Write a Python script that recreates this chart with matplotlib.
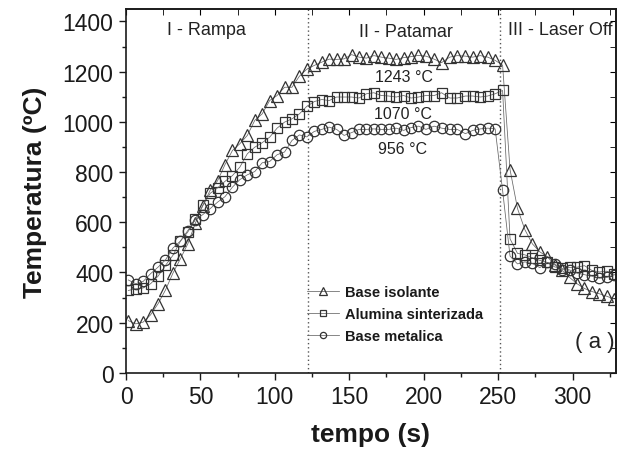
import numpy as np
import matplotlib
matplotlib.use('Agg')
import matplotlib.pyplot as plt
from matplotlib.ticker import MultipleLocator

plt.rcParams['font.family'] = ['Liberation Sans', 'DejaVu Sans']

# tempo (s)
tempo = [1.5, 6.5, 11.5, 16.5, 21.5, 26.5, 31.5, 36.5, 41.5, 46.5, 51.5, 56.5, 61.5,
         66.5, 71.5, 76.5, 81.5, 86.5, 91.5, 96.5, 101.5, 106.5, 111.5, 116.5, 121.5,
         126.5, 131.5, 136.5, 141.5, 146.5, 151.5, 156.5, 161.5, 166.5, 171.5, 176.5,
         181.5, 186.5, 191.5, 196.5, 201.5, 207, 212, 217.5, 222.5, 228, 233, 238, 243,
         248, 253,
         258, 263, 268, 273, 278, 283, 288, 293, 298, 303, 308, 313, 318, 323, 328]

base_isolante = [208, 195, 202, 231, 275, 330, 397, 454, 514, 595, 665, 727, 765,
                 830, 886, 913, 946, 1006, 1032, 1085, 1105, 1138, 1138, 1182, 1210,
                 1225, 1238, 1250, 1249, 1251, 1268, 1258, 1254, 1264, 1258, 1254,
                 1249, 1256, 1260, 1265, 1262, 1250, 1236, 1258, 1264, 1262, 1258, 1264, 1258,
                 1245, 1226,
                 810, 655, 570, 514, 482, 463, 430, 408, 380, 355, 336, 324, 315, 305, 294]

alumina = [328, 335, 338, 355, 385, 428, 468, 524, 561, 611, 667, 715, 737,
           763, 786, 820, 873, 899, 917, 939, 975, 999, 1012, 1032, 1062,
           1081, 1089, 1085, 1099, 1099, 1099, 1095, 1112, 1116, 1105, 1103,
           1099, 1105, 1095, 1099, 1105, 1105, 1116, 1095, 1095, 1103, 1103, 1099, 1103,
           1112, 1125,
           534, 476, 470, 458, 448, 440, 422, 416, 420, 421, 427, 408, 402, 405, 392]

base_metalica = [370, 355, 364, 395, 421, 450, 497, 525, 567, 610, 630, 654, 680,
                 702, 740, 770, 789, 802, 837, 842, 869, 880, 926, 948, 940,
                 962, 970, 979, 970, 946, 957, 970, 970, 972, 970, 970,
                 975, 966, 977, 983, 970, 983, 975, 970, 970, 953, 966, 972, 975,
                 972, 727,
                 465, 434, 442, 436, 419, 440, 434, 411, 410, 397, 391, 385, 377, 380, 390]

fases = [122.5, 251]

fig = plt.figure(figsize=(6.27, 4.52), dpi=100)
ax = fig.add_axes([0.201, 0.173, 0.781, 0.805])

estilo = dict(color='#666666', lw=0.55, mfc='none', mew=0.9, mec='#333333')
ax.plot(tempo, base_isolante, marker='^', ms=8.5, label='Base isolante', **estilo)
ax.plot(tempo, alumina, marker='s', ms=7, label='Alumina sinterizada', **estilo)
ax.plot(tempo, base_metalica, marker='o', ms=7.5, label='Base metalica', **estilo)

for xf in fases:
    ax.axvline(xf, color='#555555', ls=(0, (1, 2)), lw=1.0, zorder=0)

ax.set_xlim(0, 329)
ax.set_ylim(0, 1450)
ax.xaxis.set_major_locator(MultipleLocator(50))
ax.xaxis.set_minor_locator(MultipleLocator(25))
ax.yaxis.set_major_locator(MultipleLocator(200))
ax.yaxis.set_minor_locator(MultipleLocator(100))
ax.tick_params(which='both', direction='out', width=1.0, labelsize=16.5,
               colors='#1a1a1a', pad=4)
ax.tick_params(which='major', length=5)
ax.tick_params(which='minor', length=3)

top = ax.secondary_xaxis('top')
top.xaxis.set_major_locator(MultipleLocator(50))
top.xaxis.set_minor_locator(MultipleLocator(25))
top.tick_params(which='both', direction='in', length=4, labeltop=False)
right = ax.secondary_yaxis('right')
right.yaxis.set_major_locator(MultipleLocator(200))
right.yaxis.set_minor_locator(MultipleLocator(100))
right.tick_params(which='both', direction='in', length=4, labelright=False)

for sp in list(ax.spines.values()) + [top.spines['top'], right.spines['right']]:
    sp.set_linewidth(1.2)
    sp.set_color('#1a1a1a')

ax.set_xlabel('tempo (s)', fontsize=19, fontweight='bold', color='#1a1a1a', labelpad=10)
ax.set_ylabel('Temperatura (ºC)', fontsize=19, fontweight='bold', color='#1a1a1a', labelpad=11)

ax.text(54, 1367, 'I - Rampa', fontsize=13, ha='center', va='center', color='#222222')
ax.text(188, 1362, 'II - Patamar', fontsize=13, ha='center', va='center', color='#222222')
ax.text(256.5, 1367, 'III - Laser Off', fontsize=13, ha='left', va='center', color='#222222')
ax.text(187, 1180, '1243 °C', fontsize=11.5, ha='center', va='center', color='#222222')
ax.text(186, 1032, '1070 °C', fontsize=11.5, ha='center', va='center', color='#222222')
ax.text(186, 893, '956 °C', fontsize=11.5, ha='center', va='center', color='#222222')
ax.text(315, 124, '( a )', fontsize=16, ha='center', va='center', color='#222222')

leg = ax.legend(loc='upper left', bbox_to_anchor=(0.37, 0.242), frameon=False,
                prop={'weight': 'bold', 'size': 10.5}, markerscale=0.6,
                handlelength=2.2, handletextpad=0.4, labelspacing=0.55,
                borderpad=0, borderaxespad=0)
for t in leg.get_texts():
    t.set_color('#1a1a1a')

fig.savefig('out.png', dpi=100)
